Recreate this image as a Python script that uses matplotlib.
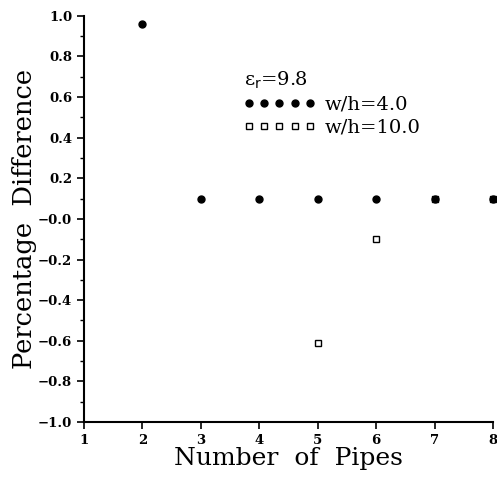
import matplotlib
matplotlib.use("Agg")
import matplotlib.pyplot as plt
from matplotlib.ticker import MultipleLocator

pipes_a = [2, 3, 4, 5, 6, 7, 8]
diff_a = [0.96, 0.10, 0.10, 0.10, 0.10, 0.10, 0.10]
pipes_b = [5, 6, 7, 8]
diff_b = [-0.61, -0.10, 0.10, 0.10]
xticks = [1, 2, 3, 4, 5, 6, 7, 8]
yticks = [1.0, 0.8, 0.6, 0.4, 0.2, 0.0, -0.2, -0.4, -0.6, -0.8, -1.0]
ylabels = ["1.0", "0.8", "0.6", "0.4", "0.2", "\u22120.0", "\u22120.2", "\u22120.4", "\u22120.6", "\u22120.8", "\u22121.0"]

plt.rcParams['font.family'] = ['DejaVu Serif']
fig = plt.figure(figsize=(4.97, 4.78), dpi=100)
ax = fig.add_axes([0.169, 0.117, 0.823, 0.850])

ax.plot(pipes_b, diff_b, linestyle='none', marker='s', markersize=4.2,
        markerfacecolor='white', markeredgecolor='black', markeredgewidth=1.0,
        label='w/h=10.0', clip_on=False, zorder=3)
ax.plot(pipes_a, diff_a, linestyle='none', marker='o', markersize=5,
        color='black', label='w/h=4.0', clip_on=False, zorder=4)

ax.set_xlim(1, 8)
ax.set_ylim(-1.0, 1.0)
ax.set_xticks(xticks)
ax.set_xticklabels([str(v) for v in xticks], fontsize=9.5, fontweight='bold')
ax.set_yticks(yticks)
ax.set_yticklabels(ylabels, fontsize=9.5, fontweight='bold')
ax.yaxis.set_minor_locator(MultipleLocator(0.1))
ax.tick_params(axis='both', direction='out', length=5, width=1.2)
ax.tick_params(axis='y', which='minor', direction='out', length=3, width=1)
ax.spines['top'].set_visible(False)
ax.spines['right'].set_visible(False)
ax.spines['left'].set_linewidth(1.5)
ax.spines['bottom'].set_linewidth(1.5)

ax.set_xlabel('Number  of  Pipes', fontsize=18, labelpad=0)
ax.set_ylabel('Percentage  Difference', fontsize=18.5, labelpad=1)

handles, labels = ax.get_legend_handles_labels()
leg = ax.legend(handles[::-1], labels[::-1], title='\u03b5$_\\mathrm{r}$=9.8',
                loc='upper left', bbox_to_anchor=(0.39, 0.868), frameon=False,
                numpoints=5, handlelength=3.7, handletextpad=0.45,
                fontsize=14, title_fontsize=14, labelspacing=0.25,
                borderaxespad=0, borderpad=0)
leg._legend_box.align = 'left'

fig.savefig('out.png', dpi=100)
